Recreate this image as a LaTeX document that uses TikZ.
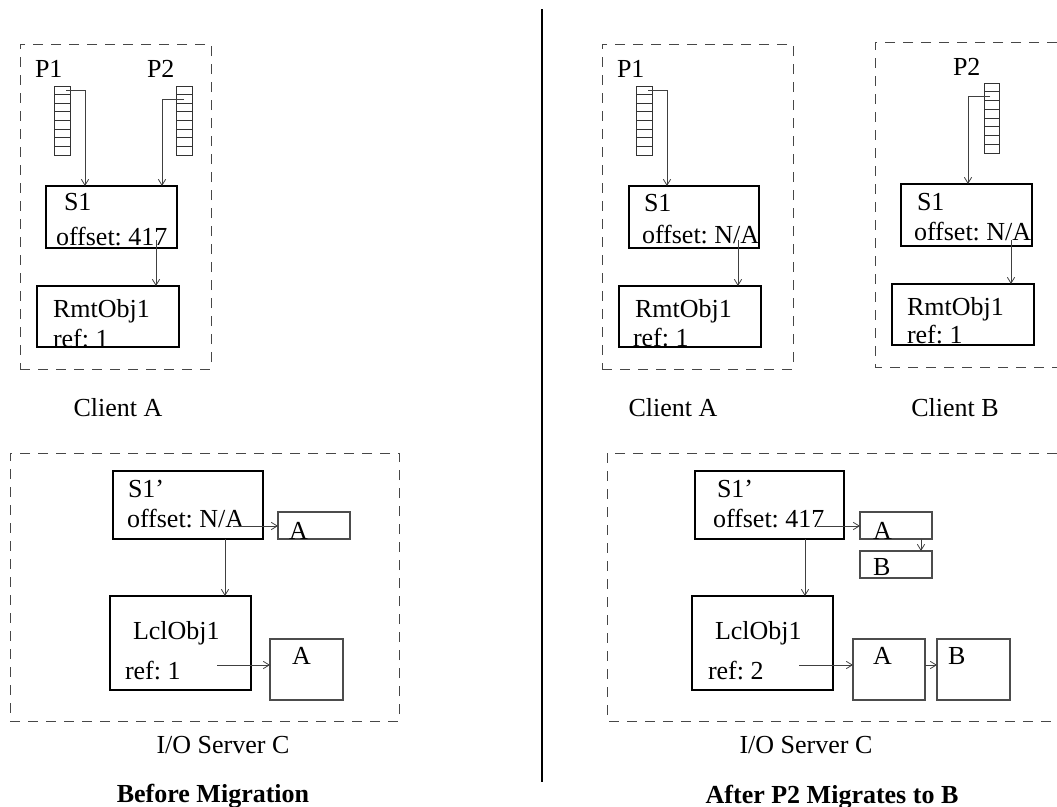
\documentclass[tikz,border=0pt]{standalone}
\usepackage{fontspec}
\setmainfont{Liberation Serif}
\usetikzlibrary{arrows.meta,fit,calc}
\frenchspacing
\begin{document}
\begin{tikzpicture}[x=0.75pt,y=-0.75pt,
  every node/.style={font=\fontsize{19.5}{23}\selectfont, inner sep=0pt, outer sep=0pt},
  lbl/.style={anchor=base west},
  captext/.style={anchor=base},
  captextb/.style={anchor=base, font=\fontsize{19.5}{23}\selectfont\bfseries},
  framebox/.style={draw=black!72, line width=0.75pt, dash pattern=on 7.5pt off 6pt, inner sep=0pt},
  framepath/.style={draw=black!72, line width=0.75pt, dash pattern=on 7.5pt off 6pt},
  objbox/.style={draw=black, line width=1.2pt, inner sep=0pt},
  thinbox/.style={draw=black!70, line width=0.8pt, inner sep=0pt},
  queuebox/.style={draw=black!80, line width=0.6pt, inner sep=0pt},
  qline/.style={draw=black!80, line width=0.6pt},
  arr/.style={draw=black!75, line width=0.7pt, -{Straight Barb[length=4.5pt,width=5.5pt,line width=0.6pt]}},
  divider/.style={draw=black, line width=1.5pt}
]
\useasboundingbox (0,0) rectangle (1057,807);

% ---------------- Left: Client A ----------------
\node[framebox, fit={(20,44) (211,369)}] (cliA) {};
\node[lbl] (p1a) at (35,77) {P1};
\node[lbl] (p2a) at (147,77) {P2};
\node[queuebox, fit={(54,86) (70,155)}] (qa1) {};
\node[queuebox, fit={(176,86) (192,155)}] (qa2) {};
\foreach \q in {qa1,qa2}{
  \foreach \i in {1,...,7}{
    \draw[qline] ($(\q.north west)!\i/8!(\q.south west)$) -- ($(\q.north east)!\i/8!(\q.south east)$);
  }
}
\node[objbox, fit={(46,186) (177,248)}] (s1a) {};
\node[lbl] (s1at) at (64,210) {S1};
\node[lbl] (s1ao) at (56,245) {offset: 417};
\node[objbox, fit={(37,286) (179,347)}] (rmta) {};
\node[lbl] (rmtat) at (53,317) {RmtObj1};
\node[lbl] (rmtar) at (53,347) {ref: 1};
\node[captext] (cliAl) at (118,416) {Client A};

\coordinate (qa1s) at (66,90);
\coordinate (qa1e) at (85,186);
\draw[arr] (qa1s) -| (qa1e);
\coordinate (qa2s) at (184,99);
\coordinate (qa2e) at (162,186);
\draw[arr] (qa2s) -| (qa2e);
\coordinate (s1ad) at (156,240);
\draw[arr] (s1ad) -- (s1ad |- rmta.north);

% ---------------- Left: I/O Server C ----------------
\node[framebox, fit={(10,453) (399,721)}] (srvA) {};
\node[objbox, fit={(113,471) (263,539)}] (s1pa) {};
\node[lbl] (s1pat) at (128,497) {S1’};
\node[lbl] (s1pao) at (127,527) {offset: N/A};
\node[thinbox, fit={(278,512) (350,539)}] (sqa) {};
\node[lbl] (sqat) at (289,539) {A};
\node[objbox, fit={(110,596) (251,690)}] (lcla) {};
\node[lbl] (lclat) at (133,639) {LclObj1};
\node[lbl] (lclar) at (125,679) {ref: 1};
\node[thinbox, fit={(270,639) (343,700)}] (bqa) {};
\node[lbl] (bqat) at (292,664) {A};
\node[captext] (srvAl) at (223,753) {I/O Server C};
\node[captextb] (titA) at (213,802) {Before Migration};

\coordinate (s1pas) at (233,526);
\draw[arr] (s1pas) -- (s1pas -| sqa.west);
\coordinate (s1pad) at (225,539);
\draw[arr] (s1pad) -- (s1pad |- lcla.north);
\coordinate (lclas) at (217,665);
\draw[arr] (lclas) -- (lclas -| bqa.west);

% ---------------- Divider ----------------
\coordinate (dtop) at (542,9);
\coordinate (dbot) at (542,782);
\draw[divider] (dtop) -- (dbot);

% ---------------- Right: Client A ----------------
\node[framebox, fit={(602,44) (793,369)}] (cliA2) {};
\node[lbl] (p1b) at (617,77) {P1};
\node[queuebox, fit={(636,86) (652,155)}] (qb1) {};
\foreach \i in {1,...,7}{
  \draw[qline] ($(qb1.north west)!\i/8!(qb1.south west)$) -- ($(qb1.north east)!\i/8!(qb1.south east)$);
}
\node[objbox, fit={(629,186) (759,248)}] (s1b) {};
\node[lbl] (s1bt) at (644,211) {S1};
\node[lbl] (s1bo) at (642,243) {offset: N/A};
\node[objbox, fit={(619,286) (761,347)}] (rmtb) {};
\node[lbl] (rmtbt) at (635,317) {RmtObj1};
\node[lbl] (rmtbr) at (633,346) {ref: 1};
\node[captext] (cliA2l) at (673,416) {Client A};

\coordinate (qb1s) at (648,90);
\coordinate (qb1e) at (667,186);
\draw[arr] (qb1s) -| (qb1e);
\coordinate (s1bd) at (738,240);
\draw[arr] (s1bd) -- (s1bd |- rmtb.north);

% ---------------- Right: Client B ----------------
\coordinate (cbtr) at (1057,42);
\coordinate (cbtl) at (875,42);
\coordinate (cbbl) at (875,367);
\coordinate (cbbr) at (1057,367);
\draw[framepath] (cbtr) -- (cbtl) -- (cbbl) -- (cbbr);
\node[lbl] (p2c) at (953,75) {P2};
\node[queuebox, fit={(984,83) (999,153)}] (qc2) {};
\foreach \i in {1,...,7}{
  \draw[qline] ($(qc2.north west)!\i/8!(qc2.south west)$) -- ($(qc2.north east)!\i/8!(qc2.south east)$);
}
\node[objbox, fit={(901,184) (1032,246)}] (s1c) {};
\node[lbl] (s1ct) at (917,210) {S1};
\node[lbl] (s1co) at (914,240) {offset: N/A};
\node[objbox, fit={(892,284) (1034,345)}] (rmtc) {};
\node[lbl] (rmtct) at (907,315) {RmtObj1};
\node[lbl] (rmtcr) at (907,343) {ref: 1};
\node[captext] (cliBl) at (955,416) {Client B};

\coordinate (qc2s) at (990,96);
\coordinate (qc2e) at (968,184);
\draw[arr] (qc2s) -| (qc2e);
\coordinate (s1cd) at (1011,240);
\draw[arr] (s1cd) -- (s1cd |- rmtc.north);

% ---------------- Right: I/O Server C ----------------
\coordinate (sbtr) at (1057,453);
\coordinate (sbtl) at (607,453);
\coordinate (sbbl) at (607,721);
\coordinate (sbbr) at (1057,721);
\draw[framepath] (sbtr) -- (sbtl) -- (sbbl) -- (sbbr);
\node[objbox, fit={(695,471) (844,539)}] (s1pb) {};
\node[lbl] (s1pbt) at (717,497) {S1’};
\node[lbl] (s1pbo) at (713,527) {offset: 417};
\node[thinbox, fit={(860,512) (932,539)}] (sqb1) {};
\node[lbl] (sqb1t) at (873,539) {A};
\node[thinbox, fit={(860,551) (932,578)}] (sqb2) {};
\node[lbl] (sqb2t) at (873,575) {B};
\node[objbox, fit={(692,596) (833,690)}] (lclb) {};
\node[lbl] (lclbt) at (715,639) {LclObj1};
\node[lbl] (lclbr) at (708,679) {ref: 2};
\node[thinbox, fit={(853,639) (925,700)}] (bqb1) {};
\node[lbl] (bqb1t) at (873,664) {A};
\node[thinbox, fit={(937,639) (1010,700)}] (bqb2) {};
\node[lbl] (bqb2t) at (948,664) {B};
\node[captext] (srvBl) at (806,753) {I/O Server C};
\node[captextb] (titB) at (832,803) {After P2 Migrates to B};

\coordinate (s1pbs) at (817,526);
\draw[arr] (s1pbs) -- (s1pbs -| sqb1.west);
\coordinate (sqb1d) at (921,539);
\draw[arr] (sqb1d) -- (sqb1d |- sqb2.north);
\coordinate (s1pbd) at (805,539);
\draw[arr] (s1pbd) -- (s1pbd |- lclb.north);
\coordinate (lclbs) at (799,665);
\draw[arr] (lclbs) -- (lclbs -| bqb1.west);
\coordinate (bqb1s) at (925,665);
\draw[arr] (bqb1s) -- (bqb1s -| bqb2.west);
\end{tikzpicture}
\end{document}
